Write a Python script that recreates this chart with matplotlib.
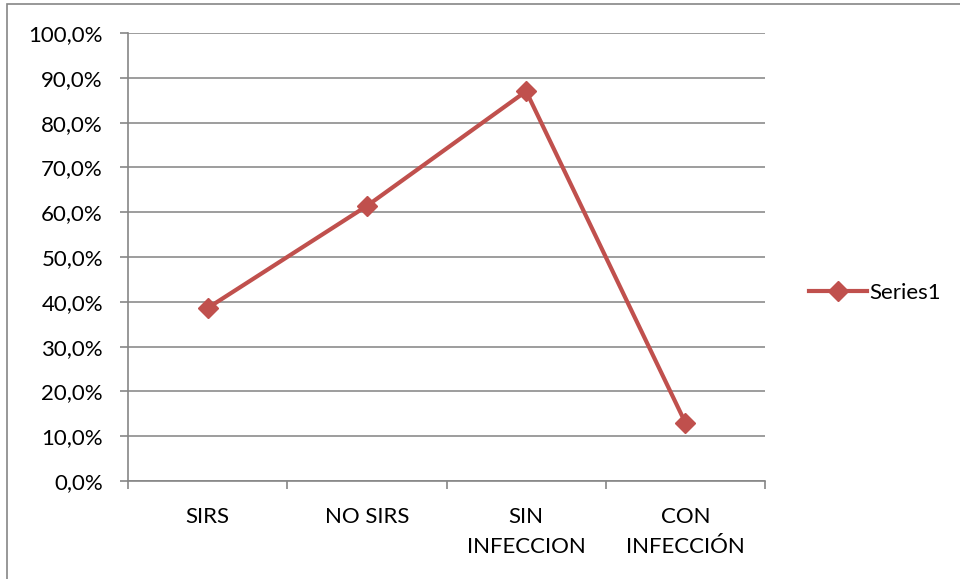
import matplotlib
matplotlib.use("Agg")
import matplotlib.pyplot as plt
from matplotlib.patches import Rectangle
from matplotlib.lines import Line2D

categories = ["SIRS", "NO SIRS", "SIN\nINFECCION", "CON\nINFECCIÓN"]
values = [38.6, 61.4, 87.0, 13.0]
y_ticks = [0, 10, 20, 30, 40, 50, 60, 70, 80, 90, 100]
series_name = "Series1"

plt.rcParams["font.family"] = ["Lato", "DejaVu Sans"]
fs = 16

fig = plt.figure(figsize=(9.6, 5.79), dpi=100)
ax = fig.add_axes([128 / 960, 1 - 481 / 579, (765 - 128) / 960, (481 - 33) / 579])

x = list(range(len(categories)))
color = "#C0504D"
ax.plot(x, values, color=color, linewidth=3, marker="D", markersize=10.5,
        markerfacecolor=color, markeredgecolor=color, label=series_name)

ax.set_xlim(-0.5, len(categories) - 0.5)
ax.set_ylim(0, 100)
ax.set_yticks(y_ticks)
ax.set_yticklabels([f"{v:.1f}%".replace(".", ",") for v in y_ticks], fontsize=fs)
ax.set_xticks(x)
ax.set_xticklabels(categories, fontsize=fs, linespacing=1.6)
ax.tick_params(axis="x", length=0, pad=19)
ax.tick_params(axis="y", length=6, color="#868686", width=1.2, pad=12)

# category boundary ticks
ax.set_xticks([i - 0.5 for i in range(len(categories) + 1)], minor=True)
ax.tick_params(axis="x", which="minor", length=6, color="#868686", width=1.2)

ax.grid(axis="y", color="#8c8c8c", linewidth=1.2)
ax.set_axisbelow(True)
for side in ["top", "right"]:
    ax.spines[side].set_visible(False)
for side in ["left", "bottom"]:
    ax.spines[side].set_color("#868686")
    ax.spines[side].set_linewidth(1.2)

handle = Line2D([], [], color=color, linewidth=3, marker="D", markersize=10.5)
fig.legend([handle], [series_name], loc="center left", bbox_to_anchor=(800 / 960, 1 - 293 / 579),
           frameon=False, fontsize=fs, handlelength=2.6, handletextpad=0.1, borderaxespad=0)

# outer chart frame
fig.patches.append(Rectangle((7 / 960, -0.1), 1.2, 1 - 4 / 579 + 0.1, transform=fig.transFigure,
                             fill=False, edgecolor="#868686", linewidth=1.2))

fig.savefig("out.png", dpi=100)
